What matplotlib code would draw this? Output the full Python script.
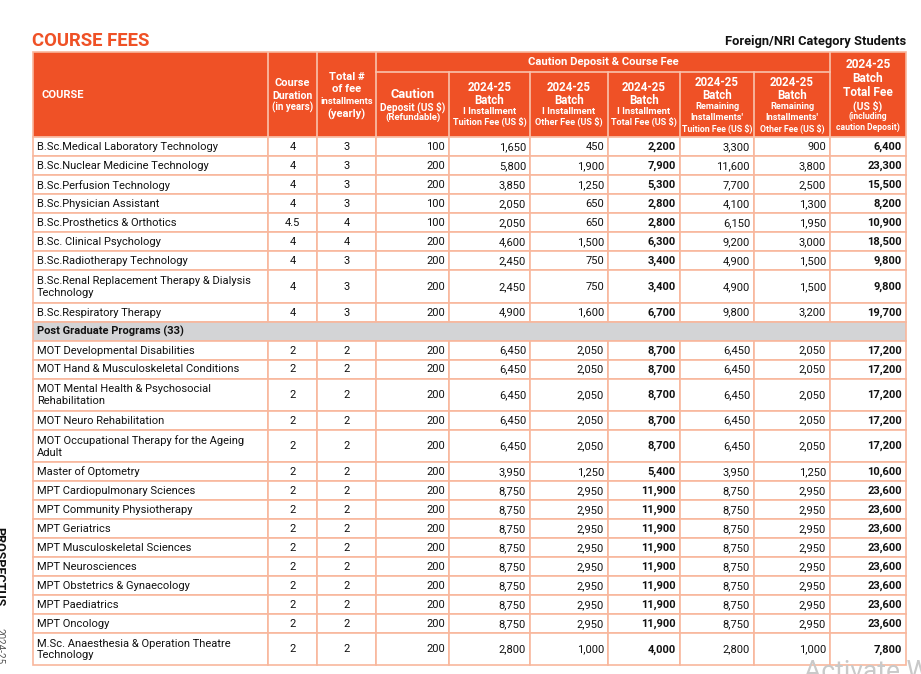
import matplotlib.pyplot as plt
from matplotlib.patches import Rectangle

plt.rcParams['font.family'] = ['Roboto', 'DejaVu Sans']

# ---- data ----
ug_courses = ["B.Sc.Medical Laboratory Technology", "B.Sc.Nuclear Medicine Technology",
              "B.Sc.Perfusion Technology", "B.Sc.Physician Assistant",
              "B.Sc.Prosthetics & Orthotics", "B.Sc. Clinical Psychology",
              "B.Sc.Radiotherapy Technology",
              "B.Sc.Renal Replacement Therapy & Dialysis\nTechnology",
              "B.Sc.Respiratory Therapy"]
ug_duration = ["4", "4", "4", "4", "4.5", "4", "4", "4", "4"]
ug_installments = [3, 3, 3, 3, 4, 4, 3, 3, 3]
ug_caution = [100, 200, 200, 100, 100, 200, 200, 200, 200]
ug_tuition1 = [1650, 5800, 3850, 2050, 2050, 4600, 2450, 2450, 4900]
ug_other1 = [450, 1900, 1250, 650, 650, 1500, 750, 750, 1600]
ug_total1 = [2200, 7900, 5300, 2800, 2800, 6300, 3400, 3400, 6700]
ug_rem_tuition = [3300, 11600, 7700, 4100, 6150, 9200, 4900, 4900, 9800]
ug_rem_other = [900, 3800, 2500, 1300, 1950, 3000, 1500, 1500, 3200]
ug_total_fee = [6400, 23300, 15500, 8200, 10900, 18500, 9800, 9800, 19700]

section_label = "Post Graduate Programs (33)"

pg_courses = ["MOT Developmental Disabilities", "MOT Hand & Musculoskeletal Conditions",
              "MOT Mental Health & Psychosocial\nRehabilitation", "MOT Neuro Rehabilitation",
              "MOT Occupational Therapy for the Ageing\nAdult", "Master of Optometry",
              "MPT Cardiopulmonary Sciences", "MPT Community Physiotherapy",
              "MPT Geriatrics", "MPT Musculoskeletal Sciences", "MPT Neurosciences",
              "MPT Obstetrics & Gynaecology", "MPT Paediatrics", "MPT Oncology",
              "M.Sc. Anaesthesia & Operation Theatre\nTechnology"]
pg_duration = ["2", "2", "2", "2", "2", "2", "2", "2", "2", "2", "2", "2", "2", "2", "2"]
pg_installments = [2, 2, 2, 2, 2, 2, 2, 2, 2, 2, 2, 2, 2, 2, 2]
pg_caution = [200, 200, 200, 200, 200, 200, 200, 200, 200, 200, 200, 200, 200, 200, 200]
pg_tuition1 = [6450, 6450, 6450, 6450, 6450, 3950, 8750, 8750, 8750, 8750, 8750, 8750, 8750, 8750, 2800]
pg_other1 = [2050, 2050, 2050, 2050, 2050, 1250, 2950, 2950, 2950, 2950, 2950, 2950, 2950, 2950, 1000]
pg_total1 = [8700, 8700, 8700, 8700, 8700, 5400, 11900, 11900, 11900, 11900, 11900, 11900, 11900, 11900, 4000]
pg_rem_tuition = [6450, 6450, 6450, 6450, 6450, 3950, 8750, 8750, 8750, 8750, 8750, 8750, 8750, 8750, 2800]
pg_rem_other = [2050, 2050, 2050, 2050, 2050, 1250, 2950, 2950, 2950, 2950, 2950, 2950, 2950, 2950, 1000]
pg_total_fee = [17200, 17200, 17200, 17200, 17200, 10600, 23600, 23600, 23600, 23600, 23600, 23600, 23600, 23600, 7800]

# ---- layout / style ----
ORANGE = '#EF5126'
BORDER = '#F8B79D'
HEAD_LINE = '#F9C2AC'
GREY = '#D3D4D6'
TXT = '#111111'
FS = 8.0  # body text size

col_x = [33, 268, 317, 376, 449, 530, 608, 680, 754, 830, 906]
head_top, head_mid, head_bot = 52, 72, 137.3
row_h1, row_h2 = 19.0, 32.2

fig = plt.figure(figsize=(9.21, 6.74), dpi=100)
ax = fig.add_axes([0, 0, 1, 1])
ax.set_xlim(0, 921)
ax.set_ylim(674, 0)
ax.axis('off')

# titles
ax.text(32, 45.5, "COURSE FEES", color=ORANGE, fontsize=13.3, fontweight='bold', va='baseline')
ax.text(906, 44.5, "Foreign/NRI Category Students", color=TXT, fontsize=9.3, fontweight='bold',
        ha='right', va='baseline')

# header block
ax.add_patch(Rectangle((col_x[0], head_top), col_x[-1] - col_x[0], head_bot - head_top,
                       facecolor=ORANGE, edgecolor=BORDER, lw=1.2))
for x in [268, 317, 376, 830]:
    ax.plot([x, x], [head_top, head_bot], color=HEAD_LINE, lw=1.2)
ax.plot([376, 830], [head_mid, head_mid], color=HEAD_LINE, lw=1.2)
for x in [449, 530, 608, 680, 754]:
    ax.plot([x, x], [head_mid, head_bot], color=HEAD_LINE, lw=1.2)


def htext(x, y, s, size=8.0):
    ax.text(x, y, s, color='white', fontsize=size, fontweight='bold', ha='center', va='center')


ax.text(41, 95, "COURSE", color='white', fontsize=8.0, fontweight='bold', va='center')
htext(292.5, 83.3, "Course", 7.9)
htext(292.5, 95.7, "Duration", 7.6)
htext(292.5, 107.3, "(in years)", 7.0)
htext(346.5, 76.7, "Total #", 8.1)
htext(346.5, 89.3, "of fee", 8.1)
htext(346.5, 101.7, "installments", 6.8)
htext(346.5, 114.3, "(yearly)", 8.1)
htext(412.5, 94, "Caution", 9.2)
htext(412.5, 106.7, "Deposit (US $)", 7.2)
htext(412.5, 117.7, "(Refundable)", 6.8)
htext(603, 62.3, "Caution Deposit & Course Fee", 8.1)

for i, sub in enumerate(["Tuition Fee (US $)", "Other Fee (US $)", "Total Fee (US $)"]):
    cx = (col_x[4 + i] + col_x[5 + i]) / 2
    htext(cx, 87.3, "2024-25", 8.3)
    htext(cx, 100.3, "Batch", 8.3)
    htext(cx, 111.7, "I Installment", 6.8)
    htext(cx, 122.3, sub, 6.6)
for i, sub in enumerate(["Tuition Fee (US $)", "Other Fee (US $)"]):
    cx = (col_x[7 + i] + col_x[8 + i]) / 2
    htext(cx, 82.3, "2024-25", 8.3)
    htext(cx, 95.3, "Batch", 8.3)
    htext(cx, 106.7, "Remaining", 6.6)
    htext(cx, 117.7, "Installments'", 6.6)
    htext(cx, 128.7, sub, 6.3)
cx = (830 + 906) / 2
htext(cx, 64.3, "2024-25", 8.6)
htext(cx, 78.3, "Batch", 8.6)
htext(cx, 92, "Total Fee", 8.6)
htext(cx, 105.7, "(US $)", 7.5)
htext(cx, 116.7, "(including", 6.2)
htext(cx, 127.3, "caution Deposit)", 6.2)


def fmt(v):
    return f"{v:,}"


def draw_rows(y, courses, dur, inst, caut, t1, o1, tot1, rt, ro, tf):
    for k in range(len(courses)):
        h = row_h2 if '\n' in courses[k] else row_h1
        cy = y + h / 2 + 0.5
        for j in range(len(col_x) - 1):
            ax.add_patch(Rectangle((col_x[j], y), col_x[j + 1] - col_x[j], h,
                                   facecolor='white', edgecolor=BORDER, lw=1.2))
        ax.text(37, cy, courses[k], fontsize=FS, color=TXT, va='center', ha='left',
                linespacing=1.22)
        ax.text(292.5, cy, dur[k], fontsize=FS, color=TXT, va='center', ha='center')
        ax.text(347, cy, str(inst[k]), fontsize=FS, color=TXT, va='center', ha='center')
        vals = [caut[k], t1[k], o1[k], tot1[k], rt[k], ro[k], tf[k]]
        for j, v in enumerate(vals):
            bold = j in (3, 6)
            ax.text(col_x[4 + j] - 4, cy, fmt(v), fontsize=FS, color=TXT,
                    va='center', ha='right', fontweight='bold' if bold else 'normal')
        y += h
    return y


y = draw_rows(head_bot, ug_courses, ug_duration, ug_installments, ug_caution, ug_tuition1,
              ug_other1, ug_total1, ug_rem_tuition, ug_rem_other, ug_total_fee)
ax.add_patch(Rectangle((col_x[0], y), col_x[-1] - col_x[0], row_h1,
                       facecolor=GREY, edgecolor=BORDER, lw=1.2))
ax.text(37, y + row_h1 / 2 + 0.5, section_label, fontsize=FS, fontweight='bold', color=TXT,
        va='center')
y += row_h1
draw_rows(y, pg_courses, pg_duration, pg_installments, pg_caution, pg_tuition1,
          pg_other1, pg_total1, pg_rem_tuition, pg_rem_other, pg_total_fee)

# side label (cut off at page edge) and screen watermark
ax.text(-1, 527, "PROSPECTUS", rotation=-90, fontsize=9, fontweight='bold', color=TXT,
        ha='center', va='top')
ax.text(-1, 628, "2024-25", rotation=-90, fontsize=7, color='#555555', ha='center', va='top')
ax.text(804, 679, "Activate Windows", fontsize=19, color='#C9C9C9', va='baseline')

fig.savefig('out.png', dpi=100)
